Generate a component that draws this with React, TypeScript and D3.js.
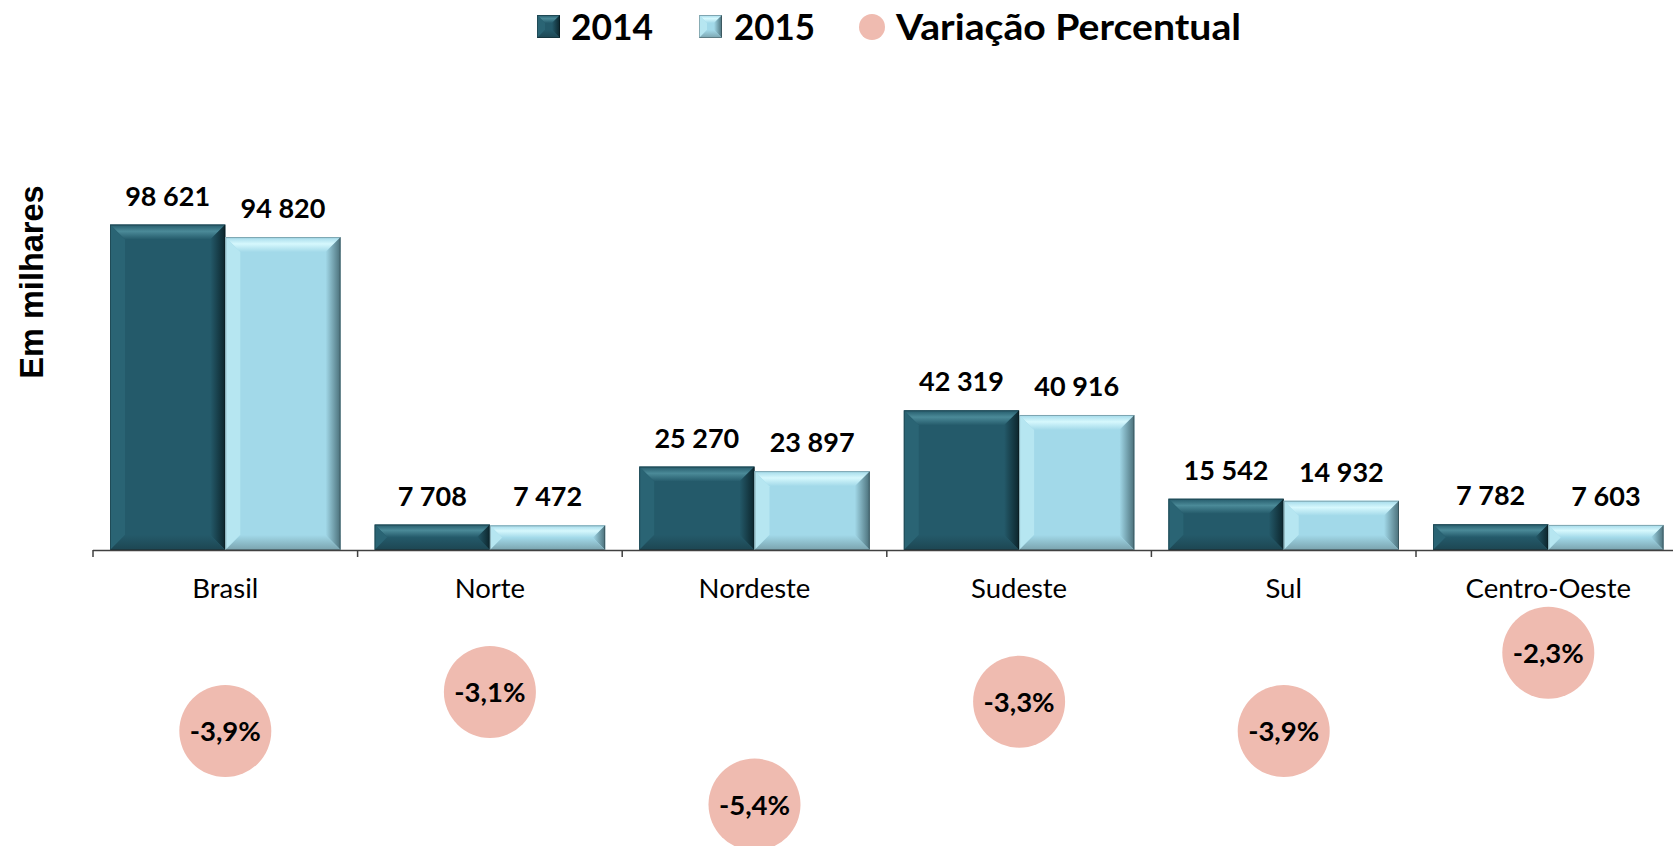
import React from "react";
import * as d3 from "d3";

const categories = ["Brasil", "Norte", "Nordeste", "Sudeste", "Sul", "Centro-Oeste"];
const seriesNames = ["2014", "2015"];
const values2014 = [98621, 7708, 25270, 42319, 15542, 7782];
const values2015 = [94820, 7472, 23897, 40916, 14932, 7603];
const variation = [-3.9, -3.1, -5.4, -3.3, -3.9, -2.3];
const variationLabels = ["-3,9%", "-3,1%", "-5,4%", "-3,3%", "-3,9%", "-2,3%"];
const legendVarLabel = "Variação Percentual";
const yTitle = "Em milhares";

const W = 1673;
const H = 846;

type Pal = { id: string; center: string; topHi: string; left: string; rightEdge: string; bottom: string };
const pal2014: Pal = { id: "p14", center: "#245A6A", topHi: "#4B8A98", left: "#2A6474", rightEdge: "#0C252C", bottom: "#1D4652" };
const pal2015: Pal = { id: "p15", center: "#A2D9E9", topHi: "#D6F8FD", left: "#B6E6F1", rightEdge: "#4A6F79", bottom: "#7AA3AE" };

function fmt(v: number) {
  return d3.format(",")(v).replace(/,/g, " ");
}

function PalDefs({ p }: { p: Pal }) {
  return (
    <>
      <linearGradient id={p.id + "-top"} x1="0" y1="0" x2="0" y2="1">
        <stop offset="0%" stopColor={p.center} />
        <stop offset="45%" stopColor={p.topHi} />
        <stop offset="100%" stopColor={p.center} />
      </linearGradient>
      <linearGradient id={p.id + "-right"} x1="0" y1="0" x2="1" y2="0">
        <stop offset="0%" stopColor={p.center} />
        <stop offset="100%" stopColor={p.rightEdge} />
      </linearGradient>
      <linearGradient id={p.id + "-bottom"} x1="0" y1="0" x2="0" y2="1">
        <stop offset="0%" stopColor={p.center} />
        <stop offset="100%" stopColor={p.bottom} />
      </linearGradient>
    </>
  );
}

function Bevel({ x, y, w, h, p, bv }: { x: number; y: number; w: number; h: number; p: Pal; bv: number }) {
  const b = Math.min(bv, h / 2, w / 2);
  const pts = (a: number[][]) => a.map((q) => q.join(",")).join(" ");
  return (
    <g>
      <rect x={x} y={y} width={w} height={h} fill={p.center} />
      <polygon points={pts([[x, y], [x + w, y], [x + w - b, y + b], [x + b, y + b]])} fill={`url(#${p.id}-top)`} />
      <polygon points={pts([[x, y], [x + b, y + b], [x + b, y + h - b], [x, y + h]])} fill={p.left} />
      <polygon points={pts([[x + w, y], [x + w, y + h], [x + w - b, y + h - b], [x + w - b, y + b]])} fill={`url(#${p.id}-right)`} />
      <polygon points={pts([[x, y + h], [x + w, y + h], [x + w - b, y + h - b], [x + b, y + h - b]])} fill={`url(#${p.id}-bottom)`} />
      <rect x={x + 0.5} y={y + 0.5} width={w - 1} height={h - 1} fill="none" stroke="rgba(0,0,0,0.25)" strokeWidth={1} />
    </g>
  );
}

export default function App() {
  const groupW = 264.6;
  const x0 = d3.scaleBand<string>().domain(categories).range([93, 93 + groupW * categories.length]).paddingInner(0).paddingOuter(0);
  const x1 = d3.scaleBand<string>().domain(seriesNames).range([17, groupW - 17]).padding(0);
  const y = d3.scaleLinear().domain([0, 100000]).range([550, 220]);
  const yp = d3.scaleLinear().domain([0, -6]).range([540, 834]);
  const font = "Lato, 'Open Sans', sans-serif";
  const baseY = y(0);

  const boundaries = d3.range(categories.length + 1).map((i) => 93 + i * groupW);

  return (
    <svg width={W} height={H} style={{ position: "absolute", left: 0, top: 0, background: "#fff" }}>
      <defs>
        <PalDefs p={pal2014} />
        <PalDefs p={pal2015} />
      </defs>
      {/* legend */}
      <g fontFamily={font} fontWeight={700} fontSize={37} fill="#000">
        <Bevel x={537} y={15} w={23} h={23} p={pal2014} bv={8} />
        <text x={571} y={40} textLength={82} lengthAdjust="spacingAndGlyphs">2014</text>
        <Bevel x={699} y={15} w={23} h={23} p={pal2015} bv={8} />
        <text x={734} y={40} textLength={81} lengthAdjust="spacingAndGlyphs">2015</text>
        <circle cx={872} cy={27} r={13} fill="#EFBBB0" />
        <text x={896} y={40} textLength={345} lengthAdjust="spacingAndGlyphs">{legendVarLabel}</text>
      </g>

      {/* y title */}
      <text
        transform={`translate(43,282) rotate(-90)`}
        textAnchor="middle"
        fontFamily="'Liberation Sans', Arial, sans-serif"
        fontWeight={700}
        fontSize={32.5}
        fill="#000"
      >
        {yTitle}
      </text>

      {/* bars */}
      {categories.map((c, i) => {
        const gx = x0(c)!;
        const vals = [values2014[i], values2015[i]];
        return (
          <g key={c}>
            {seriesNames.map((s, j) => {
              const bx = gx + x1(s)!;
              const bw = x1.bandwidth();
              const by = y(vals[j]);
              return (
                <g key={s}>
                  <Bevel x={bx} y={by} w={bw} h={baseY - by} p={j === 0 ? pal2014 : pal2015} bv={15} />
                  <text
                    x={bx + bw / 2}
                    y={by - 19}
                    textAnchor="middle"
                    fontFamily={font}
                    fontWeight={700}
                    fontSize={27}
                    fill="#000"
                  >
                    {fmt(vals[j])}
                  </text>
                </g>
              );
            })}
            <text
              x={gx + groupW / 2}
              y={598}
              textAnchor="middle"
              fontFamily={font}
              fontSize={27.5}
              fill="#000"
            >
              {c}
            </text>
          </g>
        );
      })}

      {/* axis */}
      <line x1={93} x2={W} y1={baseY + 0.5} y2={baseY + 0.5} stroke="#404040" strokeWidth={1.5} />
      {boundaries.map((bx, i) => (
        <line key={i} x1={bx} x2={bx} y1={baseY} y2={baseY + 7} stroke="#404040" strokeWidth={1.5} />
      ))}

      {/* variation bubbles */}
      {categories.map((c, i) => {
        const cx = x0(c)! + groupW / 2;
        const cy = yp(variation[i]);
        return (
          <g key={"v" + c}>
            <circle cx={cx} cy={cy} r={46} fill="#EFBBB0" />
            <text
              x={cx}
              y={cy}
              dy="0.36em"
              textAnchor="middle"
              fontFamily={font}
              fontWeight={700}
              fontSize={27.5}
              fill="#000"
            >
              {variationLabels[i]}
            </text>
          </g>
        );
      })}
    </svg>
  );
}
